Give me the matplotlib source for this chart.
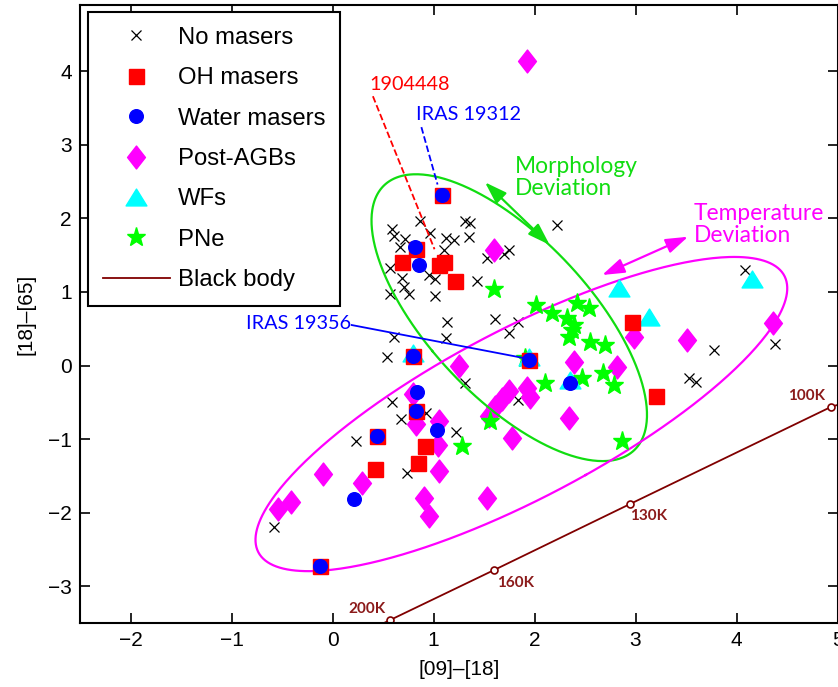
import numpy as np
import matplotlib
matplotlib.use('Agg')
import matplotlib.pyplot as plt
from matplotlib.path import Path

plt.rcParams['font.family'] = ['Liberation Sans', 'DejaVu Sans']

# ---------------- data ----------------
nomaser_x = [0.87, 1.31, 1.36, 0.59, 0.61, 0.72, 0.67, 0.97, 1.12, 1.20, 1.35, 1.10, 1.75, 1.53,
             1.70, 0.57, 0.69, 0.71, 0.76, 0.57, 1.01, 0.96, 1.01, 1.43, 2.22, 1.13, 1.61, 1.84,
             1.75, 1.12, 0.61, 0.54, 1.31, 1.84, 0.59, 0.68, 0.93, 0.23, 1.22, 0.74, -0.58,
             4.08, 3.78, 3.53, 3.60, 4.38]
nomaser_y = [1.97, 1.97, 1.94, 1.85, 1.76, 1.72, 1.61, 1.80, 1.73, 1.70, 1.74, 1.57, 1.57, 1.46,
             1.52, 1.33, 1.19, 1.07, 0.97, 0.97, 0.95, 1.23, 1.18, 1.15, 1.91, 0.59, 0.63, 0.59,
             0.44, 0.37, 0.39, 0.11, -0.24, -0.47, -0.49, -0.73, -0.65, -1.02, -0.91, -1.46, -2.20,
             1.30, 0.21, -0.17, -0.22, 0.29]

oh_x = [0.69, 0.83, 1.05, 1.10, 1.21, 1.08, 0.80, 0.83, 0.44, 0.92, 0.85, 0.42, -0.12, 1.95, 2.97, 3.20]
oh_y = [1.41, 1.59, 1.37, 1.41, 1.15, 2.32, 0.13, -0.62, -0.96, -1.10, -1.33, -1.40, -2.72, 0.07, 0.59, -0.42]

water_x = [0.82, 0.86, 1.08, 0.80, 0.84, 0.83, 0.44, 1.03, 0.21, -0.12, 1.95, 2.35]
water_y = [1.61, 1.37, 2.32, 0.13, -0.36, -0.62, -0.96, -0.88, -1.81, -2.72, 0.07, -0.24]

pagb_x = [1.93, 1.60, 1.25, 0.80, 0.83, 1.05, 1.04, 1.05, 0.29, -0.09, -0.41, -0.54, 0.91, 0.96,
          1.53, 1.93, 1.96, 1.75, 1.68, 1.61, 1.55, 1.78, 2.39, 2.34, 2.82, 2.99, 3.51, 4.36]
pagb_y = [4.14, 1.57, -0.01, -0.39, -0.79, -0.75, -1.08, -1.43, -1.60, -1.47, -1.86, -1.95, -1.80, -2.04,
          -1.80, -0.31, -0.43, -0.34, -0.46, -0.57, -0.69, -0.98, 0.05, -0.72, -0.02, 0.39, 0.35, 0.58]

wf_x = [2.84, 3.13, 4.15, 1.95, 2.35, 0.80]
wf_y = [1.05, 0.66, 1.18, 0.11, -0.20, 0.17]

pne_x = [1.60, 2.01, 2.17, 2.32, 2.42, 2.54, 2.37, 2.34, 2.55, 2.70, 2.10, 2.47, 2.68, 2.79,
         1.56, 2.87, 1.28, 1.91, 2.39]
pne_y = [1.04, 0.82, 0.71, 0.64, 0.85, 0.78, 0.48, 0.39, 0.32, 0.28, -0.24, -0.17, -0.10, -0.27,
         -0.75, -1.02, -1.10, 0.10, 0.55]

bb_temp = [200, 160, 130, 100]
bb_x = [0.57, 1.60, 2.95, 4.94]
bb_y = [-3.46, -2.78, -1.88, -0.56]
bb_ext_x = [0.30, 6.0]   # curve continues beyond the view (250 K and 90 K)
bb_ext_y = [-3.64, -0.14]

# ellipses: centre and shape matrix
green_c = (1.75, 0.65)
green_S = [[1.86, -1.80], [-1.80, 3.80]]
mag_c = (1.87, -0.66)
mag_S = [[6.93, 4.50], [4.50, 4.56]]

# ---------------- figure ----------------
W, H = 838, 687
fig = plt.figure(figsize=(W / 100, H / 100), dpi=100)
ax = fig.add_axes([80 / W, 1 - 623 / H, (837.5 - 80) / W, (623 - 5) / H])
ax.set_xlim(-2.5, 5)
ax.set_ylim(-3.5, 4.9)

diamond = Path([(0, 1), (0.78, 0), (0, -1), (-0.78, 0), (0, 1)], closed=True)
tri = Path([(0, 0.81), (-1, -0.81), (1, -0.81), (0, 0.81)], closed=True)

h_x, = ax.plot(nomaser_x, nomaser_y, 'x', color='k', ms=7, mew=0.9, ls='none', zorder=3, label='No masers')
h_d, = ax.plot(pagb_x, pagb_y, marker=diamond, color='#ff00ff', mec='#ff00ff', ms=16.5, ls='none', zorder=4, label='Post-AGBs')
h_p, = ax.plot(pne_x, pne_y, '*', color='#00ff00', mec='#00ff00', ms=14, ls='none', zorder=5, label='PNe')
h_t, = ax.plot(wf_x, wf_y, marker=tri, color='#00ffff', mec='#00ffff', ms=15, ls='none', zorder=6, label='WFs')
h_s, = ax.plot(oh_x, oh_y, 's', color='#ff0000', mec='#ff0000', ms=10.8, ls='none', zorder=7, label='OH masers')
h_c, = ax.plot(water_x, water_y, 'o', color='#0000ff', mec='#0000ff', ms=9.8, ls='none', zorder=8, label='Water masers')

# black body
bbc = '#800000'
line_x = [bb_ext_x[0]] + bb_x + [bb_ext_x[1]]
line_y = [bb_ext_y[0]] + bb_y + [bb_ext_y[1]]
h_bb, = ax.plot(line_x, line_y, '-', color=bbc, lw=1.3, zorder=2, label='Black body')
ax.plot(bb_x, bb_y, 'o', mfc='white', mec=bbc, ms=5, mew=1.2, ls='none', zorder=2.5)
lab_off = {200: (-30, 8), 160: (2, -9), 130: (0, -9), 100: (-31, 8)}
for t, xx, yy in zip(bb_temp, bb_x, bb_y):
    dx, dy = lab_off[t]
    ax.annotate(f'{t}K', (xx, yy), xytext=(dx, dy), textcoords='offset points',
                ha='left', va='center', color='#8b1a1a', fontsize=11, family=['Lato', 'DejaVu Sans'],
                fontweight='bold', zorder=9)

# ellipses
tt = np.linspace(0, 2 * np.pi, 400)
for c, S, col in [(green_c, green_S, '#11dd11'), (mag_c, mag_S, '#ff00ff')]:
    vals, vecs = np.linalg.eigh(np.array(S))
    pts = vecs @ np.diag(np.sqrt(vals)) @ np.vstack([np.cos(tt), np.sin(tt)])
    ax.plot(c[0] + pts[0], c[1] + pts[1], '-', color=col, lw=1.6, zorder=4.5)

# arrows
ax.annotate('', xy=(1.51, 2.49), xytext=(2.15, 1.64),
            arrowprops=dict(arrowstyle='<|-|>,head_length=0.9,head_width=0.3', color='#11dd11', lw=1.6,
                            shrinkA=0, shrinkB=0, mutation_scale=15), zorder=9)
ax.annotate('', xy=(2.67, 1.23), xytext=(3.52, 1.75),
            arrowprops=dict(arrowstyle='<|-|>,head_length=0.9,head_width=0.3', color='#ff00ff', lw=1.6,
                            shrinkA=0, shrinkB=0, mutation_scale=15), zorder=9)

lato = ['Lato', 'DejaVu Sans']
ax.text(1.81, 2.55, 'Morphology\nDeviation', color='#11dd11', fontsize=16.4, family=lato,
        ha='left', va='center', linespacing=1.05, zorder=9)
ax.text(3.58, 1.92, 'Temperature\nDeviation', color='#ff00ff', fontsize=16.4, family=lato,
        ha='left', va='center', linespacing=1.05, zorder=9)

# labelled objects
ax.plot([0.40, 1.01], [3.66, 1.58], '--', color='#ff0000', lw=1.3, zorder=9)
ax.text(0.36, 3.82, '1904448', color='#ff0000', fontsize=14.3, family=lato, ha='left', va='center', zorder=9)
ax.plot([0.88, 1.04], [3.24, 2.46], '--', color='#0000ff', lw=1.3, zorder=9)
ax.text(0.83, 3.41, 'IRAS 19312', color='#0000ff', fontsize=14.3, family=lato, ha='left', va='center', zorder=9)
ax.plot([0.19, 1.90], [0.55, 0.10], '-', color='#0000ff', lw=1.3, zorder=9)
ax.text(0.18, 0.57, 'IRAS 19356', color='#0000ff', fontsize=14.3, family=lato, ha='right', va='center', zorder=9)

# axes styling
ax.set_xticks([-2, -1, 0, 1, 2, 3, 4, 5])
ax.set_yticks([-3, -2, -1, 0, 1, 2, 3, 4])
ax.tick_params(direction='in', length=7, width=1.2, top=True, right=True, labelsize=15, pad=6)
for sp in ax.spines.values():
    sp.set_linewidth(1.5)
ax.set_xlabel('[09]–[18]', fontsize=15, labelpad=7)
ax.set_ylabel('[18]–[65]', fontsize=15, labelpad=9)

handles = [h_x, h_s, h_c, h_d, h_t, h_p, h_bb]
leg = ax.legend(handles=handles, loc='upper left', bbox_to_anchor=(8 / 757.5, 1 - 7 / 618),
                fontsize=17.2, frameon=True, fancybox=False, framealpha=1, edgecolor='k',
                handlelength=2.8, handletextpad=0.34, labelspacing=0.77, borderpad=0.62,
                borderaxespad=0.0)
leg.get_frame().set_linewidth(1.5)
leg.set_zorder(20)

fig.savefig('out.png', dpi=100)
